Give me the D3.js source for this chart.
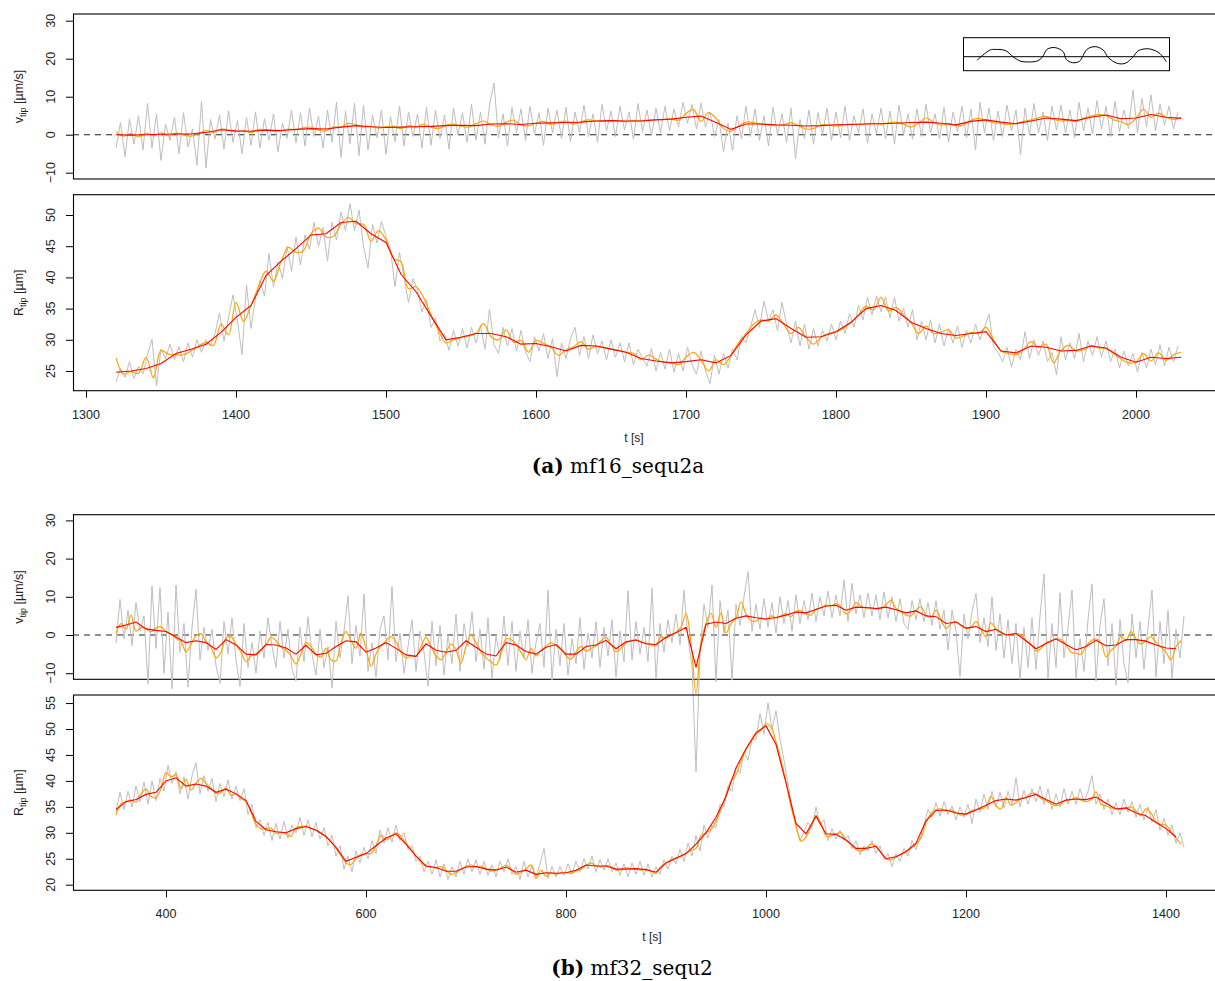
<!DOCTYPE html>
<html><head><meta charset="utf-8">
<script src="https://cdn.jsdelivr.net/npm/d3@7"></script>
<style>body{margin:0;background:#fff}svg{display:block}</style>
</head><body>
<script>
// ---------------- DATA ----------------
// Panel (a) mf16_sequ2a : time grids
const aRedStart = 1320, aRedStep = 10;
const aOrangeStart = 1320, aOrangeStep = 5;
const aGreyStart = 1320, aGreyStep = 3;

const aVelRed = [0.0,-0.1,0.0,0.1,0.2,0.2,0.6,1.3,1.0,0.9,
 1.2,1.1,1.4,1.6,1.5,2.0,2.4,2.1,1.9,2.0,
 2.1,2.2,2.4,2.5,2.4,2.8,2.9,2.7,3.0,3.1,
 3.2,3.3,3.6,3.7,3.6,3.6,3.9,4.1,4.6,4.9,
 3.2,1.4,2.8,2.8,2.6,2.5,2.3,2.4,2.6,2.7,
 2.8,2.9,3.0,3.2,3.3,3.0,2.6,3.5,3.9,3.3,
 2.9,3.6,4.4,4.1,3.7,4.6,5.2,4.2,4.4,5.3,
 4.6,4.3];
const aVelOrange = [0.8,-0.4,0.3,-0.6,0.4,-0.3,0.5,-0.3,0.4,0.0,
 -0.4,0.3,1.1,0.6,1.5,1.2,0.8,1.0,0.6,1.4,
 1.3,0.9,1.0,1.5,1.3,1.8,2.0,1.2,1.0,2.0,
 2.0,3.0,2.6,2.0,2.2,1.7,2.1,2.2,1.6,2.4,
 2.0,2.7,2.0,1.6,2.5,2.8,2.2,2.0,2.9,3.6,
 2.6,2.2,3.3,3.8,2.6,2.3,3.0,3.5,2.7,3.3,
 3.6,2.8,3.4,3.9,3.6,3.5,3.7,3.6,3.4,3.7,
 3.6,3.9,4.0,4.0,4.2,3.8,5.6,6.6,3.5,5.8,
 4.3,1.6,0.9,2.3,3.3,3.2,2.8,2.5,2.4,2.5,
 3.2,2.4,1.5,1.6,2.6,2.5,2.3,2.5,2.8,2.7,
 2.9,3.0,2.8,3.1,3.3,2.8,2.0,3.0,4.4,3.3,
 2.5,2.9,2.3,2.6,3.8,4.3,3.7,3.2,3.0,2.7,
 3.0,3.5,3.9,4.5,4.8,4.0,3.6,3.8,3.5,4.3,
 4.9,5.3,5.0,3.9,3.4,2.7,4.3,6.7,4.5,5.7,
 4.6,4.0,4.5];
const aVelGrey = [-3.5,3.2,-5.8,4.1,-2.5,5.0,-4.0,8.2,-3.5,5.5,
 -6.8,2.8,-1.5,4.6,-5.0,5.8,-3.2,1.5,-8.0,8.8,
 -8.8,4.0,-1.2,5.2,-3.8,6.3,-2.0,3.8,-5.0,4.5,
 -2.8,6.0,-3.5,4.2,-1.5,5.5,-4.5,3.0,-1.0,6.4,
 -2.2,5.8,-3.0,7.0,-0.5,4.8,-3.5,6.5,-2.0,8.5,
 -6.0,6.2,-2.5,8.3,-5.5,7.8,-4.0,5.2,-0.8,6.5,
 -5.2,4.8,-1.8,7.5,-3.0,6.0,-0.5,5.5,-3.5,7.2,
 -2.8,6.4,-1.0,5.2,-3.8,7.0,-0.2,5.8,-2.0,8.0,
 -1.5,6.0,-2.5,7.8,13.6,-0.8,5.5,-3.0,7.2,0.5,
 6.8,-1.5,7.5,0.2,5.8,-2.8,7.0,0.5,6.5,-1.0,
 7.2,-1.8,6.0,0.5,7.8,-0.5,5.5,-2.0,8.0,1.0,
 6.2,-0.5,7.5,1.2,6.0,-1.2,8.2,0.8,6.5,-0.3,
 7.0,0.5,7.5,1.0,6.8,2.0,8.5,3.0,8.0,1.5,
 8.3,2.0,6.0,-0.5,4.0,-4.5,3.0,-4.2,5.0,-1.0,
 7.5,-0.5,6.8,-1.5,5.0,-3.0,7.2,0.0,5.5,-2.0,
 7.0,-6.3,4.0,-1.0,6.5,-2.5,5.8,0.0,7.0,-1.5,
 6.0,-0.8,7.5,-1.5,5.0,0.5,6.8,-2.2,5.5,0.2,
 7.0,-1.0,6.2,-2.5,7.8,0.0,5.5,-1.2,6.8,-0.5,
 8.0,0.5,5.5,-1.0,7.2,-2.0,6.0,0.8,7.5,-0.8,
 6.8,-4.0,8.5,0.5,7.0,-1.5,6.2,-0.5,7.8,1.0,
 6.5,-5.3,7.0,0.0,8.2,0.5,6.0,-1.5,7.5,1.2,
 7.8,0.5,6.5,-0.8,8.5,1.0,7.0,0.2,9.0,1.5,
 7.5,-0.5,8.8,0.8,6.5,1.5,11.8,0.5,9.5,2.0,
 10.5,1.0,8.0,2.5,7.5,1.5,6.0];

const aRadRed = [24.8,25.0,25.4,26.2,27.8,28.5,29.3,31.2,33.6,35.5,
 40.3,42.6,44.6,46.8,47.0,48.8,49.0,47.0,45.6,40.5,
 37.7,33.8,30.0,30.4,31.0,31.0,30.5,29.3,29.4,28.9,
 28.2,29.1,29.0,28.5,28.0,27.0,26.6,26.3,26.5,26.8,
 26.3,27.5,30.8,33.0,33.4,31.8,30.4,30.5,31.3,32.8,
 35.0,35.5,34.7,32.8,31.8,31.0,30.7,31.0,31.3,28.2,
 27.9,29.0,28.8,28.2,28.3,29.0,28.7,27.2,26.4,27.2,
 27.0,27.2];
const aRadOrange = [27.1,24.5,24.9,24.6,27.2,23.9,28.3,27.7,27.6,27.6,
 28.2,29.0,29.6,29.1,32.5,30.8,36.0,33.0,35.5,38.5,
 41.0,39.4,42.5,44.8,44.0,44.3,47.0,47.9,46.5,46.6,
 48.5,49.6,48.6,48.5,45.8,47.5,46.0,43.0,42.5,38.2,
 38.5,36.8,34.0,31.5,29.5,30.0,30.4,30.6,31.0,32.6,
 30.5,30.0,31.6,29.6,29.9,28.0,29.9,29.4,28.8,27.5,
 28.4,28.9,29.7,28.5,29.0,28.8,28.5,28.3,28.0,27.8,
 26.8,27.6,26.9,26.4,26.4,26.0,27.2,28.0,26.8,25.0,
 26.8,26.0,27.5,29.5,31.0,32.5,33.2,33.0,34.0,32.5,
 31.0,32.0,30.4,29.3,30.4,31.0,31.3,31.8,32.8,34.0,
 35.4,34.8,36.8,34.6,35.2,34.0,32.8,31.0,32.2,31.0,
 31.2,31.6,30.3,30.6,31.2,31.0,32.0,30.0,28.2,27.8,
 27.6,28.4,29.7,28.8,29.3,26.3,28.3,29.1,28.2,28.4,
 29.1,28.7,28.6,27.8,26.9,26.3,26.4,27.8,26.6,27.9,
 26.7,27.6,28.0];
const aRadGrey = [23.2,25.4,24.0,26.5,23.8,25.8,24.5,27.6,30.1,22.6,
 28.5,27.0,29.3,26.8,28.9,26.5,29.5,27.2,30.0,28.0,
 30.0,29.0,31.0,34.3,29.8,33.5,37.2,33.0,27.6,38.8,
 31.8,36.8,39.5,37.0,43.8,38.5,42.5,39.8,45.0,41.0,
 46.5,42.0,46.8,44.5,48.8,45.0,48.0,42.6,48.8,46.0,
 50.5,47.5,51.8,47.5,50.8,45.0,41.5,48.5,45.5,49.0,
 46.5,44.5,38.5,44.0,40.0,36.0,39.8,38.0,34.5,36.5,
 32.0,33.5,29.8,31.0,28.3,31.5,29.0,31.8,28.7,32.0,
 29.5,32.3,28.5,34.9,29.2,27.8,32.0,29.0,31.8,28.2,
 31.5,28.0,26.5,30.5,28.2,31.0,27.0,30.2,24.1,29.5,
 27.0,30.2,32.0,27.5,30.5,27.0,30.8,27.8,29.8,26.8,
 30.0,27.2,29.5,26.5,29.5,26.0,28.5,27.0,25.8,28.6,
 25.0,28.0,25.3,28.5,24.8,27.8,25.0,28.8,26.0,24.5,
 28.2,25.0,23.0,27.5,24.5,27.8,25.5,28.5,26.8,30.5,
 29.5,32.0,34.8,32.0,36.2,33.0,34.8,31.5,36.0,32.5,
 29.5,33.0,29.0,32.5,28.5,31.8,29.0,31.5,29.8,32.5,
 30.0,33.0,31.0,34.2,32.0,35.5,33.2,36.8,34.0,37.0,
 34.5,36.9,33.5,36.8,33.0,35.0,32.0,34.8,30.0,33.0,
 30.0,33.2,29.5,32.5,29.0,31.8,29.5,32.2,28.8,31.5,
 29.5,32.5,30.0,32.0,34.1,29.0,28.0,26.5,28.8,25.6,
 28.5,26.8,31.3,27.0,30.0,27.5,29.8,26.5,28.0,24.4,
 30.5,26.8,29.5,27.0,31.0,26.5,29.8,27.5,30.5,27.2,
 29.8,26.5,28.5,25.5,28.2,25.8,27.8,24.8,28.0,25.5,
 28.5,26.0,29.2,25.8,28.8,26.5,29.0];

// Panel (b) mf32_sequ2 : time grids
const bRedStart = 350, bRedStep = 10;
const bOrangeStart = 350, bOrangeStep = 5;
const bGreyStart = 350, bGreyStep = 4;

const bVelRed = [2.0,2.6,3.4,1.6,1.2,0.9,-0.5,-2.0,-1.5,-2.0,
 -3.8,-1.2,-2.6,-5.0,-5.2,-2.5,-2.6,-3.4,-5.0,-2.7,
 -5.2,-4.8,-3.0,-1.5,-1.8,-4.5,-3.4,-2.0,-3.5,-5.2,
 -5.6,-2.3,-4.0,-4.5,-4.0,-1.5,-3.2,-5.0,-5.5,-2.0,
 -2.6,-4.3,-5.0,-3.2,-2.5,-5.0,-5.0,-3.0,-2.6,-1.4,
 -3.6,-1.8,-1.3,-2.3,-2.5,-0.6,0.6,2.0,-8.5,2.8,
 3.4,3.0,4.4,5.0,4.5,4.2,4.6,5.2,6.0,5.8,
 6.7,7.6,7.8,6.5,7.3,7.2,6.9,7.3,6.6,5.8,
 6.3,5.0,4.8,3.0,3.4,1.8,2.2,0.9,1.5,0.0,
 0.4,-1.5,-3.6,-2.2,-1.0,-2.5,-3.9,-3.0,-1.4,-2.8,
 -2.6,-1.2,-1.2,-1.6,-2.6,-3.4,-3.6];
const bVelOrange = [0.4,3.0,1.5,5.2,1.0,2.0,1.6,0.8,1.8,2.2,
 0.9,0.2,-0.9,-1.7,-4.4,-2.5,-0.2,0.3,-1.8,-3.2,
 -6.0,-4.5,-0.8,-0.5,-2.5,-4.5,-7.0,-5.5,-4.8,-4.0,
 -2.5,-0.6,-1.5,-3.2,-4.0,-5.5,-7.6,-5.0,-2.0,-3.0,
 -5.0,-5.8,-3.5,-6.5,-6.8,-2.0,0.9,-1.5,-3.5,0.5,
 -3.5,-8.2,-5.0,-2.8,-1.5,-0.4,-1.8,-4.5,-6.0,-5.5,
 -5.5,-3.0,-0.6,-3.0,-5.5,-6.5,-4.5,-2.4,-4.0,-7.4,
 -3.0,0.0,-2.0,-4.5,-6.0,-7.0,-7.9,-5.0,-1.0,-1.2,
 -2.5,-4.5,-6.5,-3.5,-5.5,-4.0,-3.0,-2.0,-2.8,-3.5,
 -5.5,-6.3,-4.5,-3.0,-4.2,-3.5,-2.8,-1.5,-0.6,-2.5,
 -4.4,-3.5,-2.0,-1.5,-1.3,-1.8,-2.2,-2.6,-2.8,-0.5,
 -0.8,0.0,0.8,2.0,5.7,-2.0,-15.3,-2.0,3.0,5.7,
 2.0,5.8,0.5,3.0,4.5,8.7,5.5,3.8,3.6,4.5,
 4.0,5.0,4.4,5.0,5.6,4.8,6.2,6.3,5.5,5.2,
 6.8,7.2,7.8,7.6,8.2,7.5,5.5,6.5,8.5,7.5,
 7.0,7.2,6.8,7.0,8.0,9.0,7.0,6.0,5.2,5.0,
 6.5,7.4,5.2,4.6,6.5,4.0,1.7,3.0,3.5,2.5,
 1.7,2.0,3.5,1.5,-0.4,3.2,1.5,0.5,0.0,0.2,
 0.4,0.0,-1.5,-2.5,-4.2,-3.5,-2.0,-1.5,-1.0,-1.2,
 -2.5,-4.5,-4.8,-5.0,-3.0,-1.5,-1.0,-2.0,-5.7,-4.0,
 -3.0,-0.3,-1.5,0.9,-1.0,-2.4,-1.5,-0.4,-2.0,-3.2,
 -4.5,-6.5,-3.0,-1.5];
const bVelGrey = [-2.2,9.3,-1.0,6.5,-2.8,8.5,1.0,5.0,-12.8,12.8,
 -3.5,12.4,-10.0,6.0,-14.1,13.1,-4.5,3.0,-13.6,2.0,
 12.0,-6.5,2.0,-4.0,1.5,-8.0,-12.7,3.5,-5.0,4.5,
 -6.5,-13.5,3.0,-8.5,-2.0,-10.0,1.0,-6.0,4.5,-3.0,
 -8.5,3.5,-6.0,1.5,-9.0,-12.0,2.0,-7.0,4.8,-5.0,
 -10.5,1.5,-8.5,-3.0,-13.9,3.5,-6.0,1.0,10.3,-7.5,
 2.5,-5.5,10.7,-9.5,-2.0,-11.0,1.5,5.0,-6.5,12.7,
 -7.0,0.5,-10.0,-3.0,4.0,-9.5,1.0,-4.5,-13.4,3.5,
 -8.0,2.5,-10.5,0.0,-7.5,5.5,-9.5,3.0,-3.0,6.0,
 -7.0,1.5,-9.0,4.5,-11.5,0.0,-6.5,5.0,-8.0,3.5,
 -9.5,1.0,-6.0,4.0,-10.0,-2.0,3.0,-8.5,11.8,-11.8,
 1.5,-8.0,3.0,-10.5,-1.0,-7.5,4.5,-9.0,0.5,-6.0,
 3.5,-8.5,2.0,-5.5,4.0,-11.0,1.0,-7.0,11.6,-6.5,
 3.5,-5.0,2.0,-7.0,12.2,-11.3,3.0,-4.5,4.0,-2.0,
 5.5,-2.5,11.8,-1.0,-8.0,-35.8,-5.0,8.0,2.0,13.1,
 -12.2,9.0,0.5,6.5,-11.8,8.0,2.5,10.0,16.6,1.0,
 8.0,1.5,9.5,2.0,8.5,0.5,10.0,3.0,9.0,1.0,
 10.5,3.0,9.0,4.0,11.0,3.5,10.0,5.0,11.5,4.5,
 10.5,5.0,14.4,3.5,13.5,5.5,10.5,4.5,11.0,5.0,
 10.5,4.0,11.3,4.5,10.0,3.5,9.5,3.0,1.5,9.0,
 4.0,9.5,3.5,8.5,2.5,9.0,1.5,6.5,-3.9,6.5,
 1.0,-10.9,5.5,-1.0,6.0,10.9,-2.0,4.5,-3.0,10.0,
 -4.0,5.5,-6.0,4.0,-7.5,3.0,-11.6,2.0,-8.5,4.5,
 -9.0,5.0,16.0,-11.3,3.0,-8.5,11.1,-6.0,2.0,11.8,
 -11.5,-1.0,-9.5,4.0,13.4,-12.0,2.5,9.5,-8.0,3.0,
 -13.1,4.0,-7.5,-12.5,5.5,-6.0,3.5,-9.0,2.0,11.8,
 -11.0,3.5,-7.5,6.5,-11.3,1.5,-6.0,5.0];

const bRadRed = [34.5,36.0,36.4,37.4,37.8,40.0,40.6,39.0,39.4,39.0,
 37.8,38.4,37.5,36.2,32.2,30.6,30.2,30.0,30.8,31.2,
 30.5,29.3,27.2,24.5,25.3,26.0,27.5,29.0,29.8,27.8,
 25.5,23.6,23.3,22.6,22.6,23.4,23.5,23.0,22.8,23.4,
 22.4,22.8,22.0,22.3,22.2,22.3,22.8,23.8,23.6,23.6,
 23.0,23.0,23.1,22.9,22.4,24.2,25.1,26.0,27.8,30.0,
 33.0,37.0,42.5,46.2,49.3,50.6,47.0,39.6,31.8,29.8,
 33.2,29.8,29.7,28.6,27.0,27.0,27.4,25.0,25.4,26.4,
 28.0,32.3,34.3,34.4,33.8,33.6,34.4,35.3,36.2,36.5,
 36.3,36.8,37.4,36.4,35.5,36.3,36.5,36.4,36.9,35.7,
 34.6,34.8,33.8,33.3,32.0,30.8,29.2];
const bRadOrange = [33.4,35.6,36.0,36.3,35.9,37.5,38.4,37.0,36.8,38.5,
 41.6,40.8,41.2,38.5,40.3,38.2,39.6,40.5,39.5,38.6,
 37.6,37.8,38.6,37.2,37.5,36.6,36.0,34.0,31.6,30.8,
 30.8,30.9,29.9,30.1,29.8,29.3,31.0,31.2,31.3,30.9,
 30.5,30.0,29.2,28.3,27.0,25.6,24.2,23.9,25.0,25.8,
 26.0,26.0,27.5,29.5,28.6,29.3,30.0,29.3,28.0,26.8,
 25.5,24.3,23.5,23.4,23.2,23.5,22.8,22.0,22.3,23.0,
 23.5,23.8,23.4,23.6,23.1,22.6,22.9,23.2,23.8,23.0,
 22.0,22.4,23.0,23.8,21.2,22.8,21.6,22.3,22.0,22.3,
 22.4,22.2,22.6,23.0,23.7,24.2,23.6,23.4,23.7,23.5,
 22.8,22.9,23.3,23.0,23.0,22.8,22.9,22.6,22.2,23.5,
 24.2,24.8,25.2,25.5,26.0,26.6,27.0,29.5,30.0,30.6,
 32.3,34.5,37.3,40.0,41.2,43.8,46.0,47.5,49.0,49.8,
 51.0,50.4,47.5,44.0,39.8,35.0,31.5,28.4,29.2,31.2,
 33.3,31.8,29.4,29.4,29.8,30.0,28.6,27.8,26.8,26.5,
 27.0,27.8,27.4,26.2,25.0,24.8,25.4,25.8,26.3,27.0,
 27.8,29.0,32.0,33.8,34.5,34.6,34.2,34.4,33.9,33.4,
 33.6,34.2,34.5,34.6,35.0,37.0,35.2,34.6,36.8,35.3,
 35.8,36.6,36.8,37.6,37.5,36.6,36.2,35.6,35.2,35.6,
 36.3,36.4,36.8,36.3,36.0,36.4,37.9,35.5,35.2,34.8,
 34.6,34.5,34.8,35.0,34.2,33.3,34.6,33.8,32.2,31.6,
 31.5,30.2,29.0,27.8];
const bRadGrey = [34.0,37.8,34.5,38.0,35.0,39.0,36.0,39.8,35.5,40.0,
 36.2,40.5,38.0,43.0,39.5,41.8,37.5,40.8,36.5,41.0,
 43.5,37.5,41.0,38.0,40.5,36.0,39.5,37.0,40.2,36.5,
 39.0,36.2,38.5,33.5,35.5,31.0,32.5,29.5,32.0,28.5,
 31.8,28.8,32.2,29.0,31.5,30.0,33.0,29.5,32.5,29.2,
 32.0,28.8,31.0,27.5,29.5,25.5,27.5,23.0,25.5,22.5,
 26.5,24.2,27.2,25.0,28.5,26.0,30.5,28.0,31.0,28.2,
 31.5,28.5,30.0,26.8,27.5,24.5,25.5,22.5,24.5,22.0,
 24.8,21.5,24.0,21.0,23.5,21.5,24.5,22.0,25.0,22.5,
 24.8,22.0,24.5,21.8,23.8,21.5,24.5,22.5,25.0,22.0,
 23.5,21.0,24.5,21.5,23.8,21.5,24.0,27.0,21.2,23.5,
 21.5,23.5,21.8,24.0,22.0,24.5,22.5,25.0,23.0,25.5,
 22.5,24.8,22.8,25.0,22.5,24.2,21.8,24.0,21.5,24.2,
 22.0,24.5,21.8,24.0,21.5,23.5,22.0,24.8,23.0,25.5,
 24.0,26.8,24.5,28.0,25.5,29.5,26.5,31.5,29.0,31.5,
 31.0,35.5,35.0,39.0,38.0,42.5,41.5,45.5,44.0,48.0,
 48.0,53.0,49.0,55.0,50.0,53.5,48.0,44.0,39.5,35.0,
 31.0,28.5,30.2,32.0,31.0,35.0,31.5,32.5,28.5,30.8,
 28.8,30.5,28.5,29.5,27.0,28.5,25.8,27.5,26.5,28.5,
 26.0,27.5,24.8,26.0,23.5,26.0,24.5,27.0,25.5,28.5,
 26.8,29.0,31.5,34.5,33.0,35.8,33.2,36.0,33.5,35.2,
 32.5,35.0,33.0,35.5,31.8,36.5,34.0,37.5,34.5,38.0,
 35.0,37.8,34.8,38.0,35.5,40.6,35.0,38.2,35.5,38.5,
 36.0,39.0,35.5,38.5,34.5,37.5,35.0,38.5,35.5,38.0,
 35.5,38.5,36.0,38.0,41.0,35.5,37.5,34.5,36.5,33.5,
 35.8,33.5,36.5,34.0,36.0,33.0,35.5,32.5,35.0,32.0,
 34.5,30.5,32.8,29.5,31.5,28.0,30.0,27.2];

// tick labels
const velTicks = [-10, 0, 10, 20, 30];
const radTicksA = [25, 30, 35, 40, 45, 50];
const radTicksB = [20, 25, 30, 35, 40, 45, 50, 55];
const timeTicksA = [1300, 1400, 1500, 1600, 1700, 1800, 1900, 2000];
const timeTicksB = [400, 600, 800, 1000, 1200, 1400];

// inset schematic (normalised shape: x 0..100 across box, y -10..10 about centre line)
const insetShapeX = [6.5,13.0,15.4,20.2,24.1,27.5,31.4,35.8,38.2,40.6,44.5,48.4,49.9,52.8,56.2,57.6,60.0,63.9,67.8,70.2,74.6,78.5,82.4,84.8,89.7,94.1,96.5,98.4];
const insetShapeY = [-2.2,4.1,4.4,3.8,0,-2.6,-3.2,-2.6,-0.4,4.5,5.5,3.0,-1.6,-3.6,-2.9,-0.4,4.5,6.1,4.1,-0.4,-4.0,-4.0,0,3.6,4.8,3.0,0.4,-3.0];

const captionA = ["(a)", " mf16_sequ2a"];
const captionB = ["(b)", " mf32_sequ2"];

// ---------------- DRAWING ----------------
const W = 1215, H = 981;
const svg = d3.select("body").append("svg").attr("width", W).attr("height", H)
  .style("font-family", "'Liberation Sans', Arial, sans-serif");

const series = (t0, step, arr) => arr.map((v, i) => ({ t: t0 + i * step, v }));

const xA = d3.scaleLinear().domain([1300, 2000]).range([86, 1136]);
const xB = d3.scaleLinear().domain([400, 1400]).range([166, 1166]);

const panels = [
  { x: xA, y: d3.scaleLinear().domain([0, 30]).range([134.7, 20.7]), top: 14, bottom: 179, right: 1224,
    ticks: velTicks, sym: "v", unit: " [µm/s]", zero: true,
    grey: series(aGreyStart, aGreyStep, aVelGrey), orange: series(aOrangeStart, aOrangeStep, aVelOrange), red: series(aRedStart, aRedStep, aVelRed) },
  { x: xA, y: d3.scaleLinear().domain([25, 50]).range([371, 215]), top: 194.7, bottom: 390.7, right: 1224,
    ticks: radTicksA, sym: "R", unit: " [µm]", xticks: timeTicksA, xlabX: 634,
    grey: series(aGreyStart, aGreyStep, aRadGrey), orange: series(aOrangeStart, aOrangeStep, aRadOrange), red: series(aRedStart, aRedStep, aRadRed) },
  { x: xB, y: d3.scaleLinear().domain([0, 30]).range([635, 520.4]), top: 514.7, bottom: 679.3, right: 1227,
    ticks: velTicks, sym: "v", unit: " [µm/s]", zero: true,
    grey: series(bGreyStart, bGreyStep, bVelGrey), orange: series(bOrangeStart, bOrangeStep, bVelOrange), red: series(bRedStart, bRedStep, bVelRed) },
  { x: xB, y: d3.scaleLinear().domain([20, 55]).range([884.7, 703.05]), top: 695, bottom: 890.3, right: 1227,
    ticks: radTicksB, sym: "R", unit: " [µm]", xticks: timeTicksB, xlabX: 652,
    grey: series(bGreyStart, bGreyStep, bRadGrey), orange: series(bOrangeStart, bOrangeStep, bRadOrange), red: series(bRedStart, bRedStep, bRadRed) }
];

const left = 73;
panels.forEach(p => {
  const g = svg.append("g");
  // frame
  g.append("rect").attr("x", left + 0.5).attr("y", p.top).attr("width", p.right - left).attr("height", p.bottom - p.top)
    .attr("fill", "none").attr("stroke", "#000").attr("stroke-width", 1.1);
  // zero line
  if (p.zero) {
    g.append("line").attr("x1", left).attr("x2", p.right).attr("y1", p.y(0)).attr("y2", p.y(0))
      .attr("stroke", "#222").attr("stroke-width", 1.1).attr("stroke-dasharray", "6,5");
  }
  // y axis
  const ax = g.append("g").attr("transform", `translate(${left},0)`)
    .call(d3.axisLeft(p.y).tickValues(p.ticks).tickSize(7).tickFormat(""));
  ax.select(".domain").remove();
  ax.selectAll(".tick line").attr("stroke", "#000");
  p.ticks.forEach(v => {
    g.append("text").attr("transform", `translate(55,${p.y(v)}) rotate(-90)`)
      .attr("text-anchor", "middle").attr("font-size", 12.5).attr("fill", "#222")
      .text(v < 0 ? "\u2212" + Math.abs(v) : v);
  });
  // y title
  const yc = (p.top + p.bottom) / 2;
  const t = g.append("text").attr("transform", `translate(23,${yc}) rotate(-90)`)
    .attr("text-anchor", "middle").attr("font-size", 12.5).attr("fill", "#222");
  t.append("tspan").text(p.sym);
  t.append("tspan").attr("font-size", 9).attr("dy", 3).text("tip");
  t.append("tspan").attr("dy", -3).text(p.unit);
  // x axis
  if (p.xticks) {
    const bx = g.append("g").attr("transform", `translate(0,${p.bottom})`)
      .call(d3.axisBottom(p.x).tickValues(p.xticks).tickSize(7).tickFormat(""));
    bx.select(".domain").remove();
    p.xticks.forEach(v => {
      g.append("text").attr("x", p.x(v)).attr("y", p.bottom + 27.8).attr("text-anchor", "middle")
        .attr("font-size", 12.5).attr("fill", "#222").text(v);
    });
    g.append("text").attr("x", p.xlabX).attr("y", p.bottom + 51).attr("text-anchor", "middle")
      .attr("font-size", 12).attr("fill", "#222").text("t [s]");
  }
  // lines
  const lineLin = d3.line().x(d => p.x(d.t)).y(d => p.y(d.v));
  const lineSm = d3.line().x(d => p.x(d.t)).y(d => p.y(d.v)).curve(d3.curveCatmullRom.alpha(0.5));
  g.append("path").datum(p.grey).attr("d", lineLin).attr("fill", "none").attr("stroke", "#bebebe").attr("stroke-width", 1);
  g.append("path").datum(p.orange).attr("d", lineSm).attr("fill", "none").attr("stroke", "#ffa500").attr("stroke-width", 1.2);
  g.append("path").datum(p.red).attr("d", lineLin).attr("fill", "none").attr("stroke", "#ff0000").attr("stroke-width", 1.1);
});

// inset schematic in top panel
const insX = d3.scaleLinear().domain([0, 100]).range([963.5, 1169.5]);
const insY = d3.scaleLinear().domain([-10, 10]).range([73.2, 40.2]);
const ins = svg.append("g");
ins.append("rect").attr("x", insX(0)).attr("y", 37.7).attr("width", insX(100) - insX(0)).attr("height", 33)
  .attr("fill", "#fff").attr("stroke", "#000").attr("stroke-width", 1);
ins.append("line").attr("x1", insX(0)).attr("x2", insX(100)).attr("y1", insY(0)).attr("y2", insY(0))
  .attr("stroke", "#000").attr("stroke-width", 1);
ins.append("path").datum(insetShapeX.map((u, i) => [u, insetShapeY[i]]))
  .attr("d", d3.line().x(d => insX(d[0])).y(d => insY(d[1])).curve(d3.curveCatmullRom.alpha(0.5)))
  .attr("fill", "none").attr("stroke", "#000").attr("stroke-width", 1);

// captions
function caption(parts, cx, y) {
  const t = svg.append("text").attr("x", cx).attr("y", y).attr("text-anchor", "middle")
    .attr("font-family", "'DejaVu Serif', 'Liberation Serif', serif").attr("font-size", 20).attr("fill", "#000");
  t.append("tspan").attr("font-weight", "bold").text(parts[0]);
  t.append("tspan").text(parts[1]);
}
caption(captionA, 618, 473);
caption(captionB, 632, 975);
</script>
</body></html>
